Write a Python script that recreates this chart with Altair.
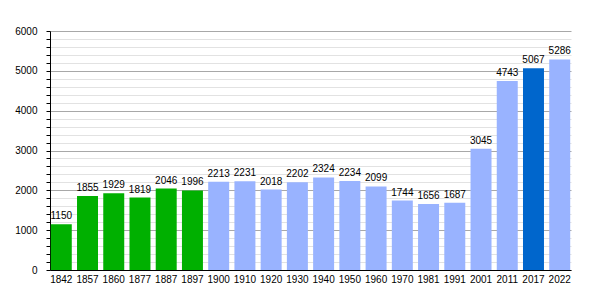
import altair as alt
import pandas as pd

years = ["1842", "1857", "1860", "1877", "1887", "1897", "1900", "1910", "1920", "1930",
         "1940", "1950", "1960", "1970", "1981", "1991", "2001", "2011", "2017", "2022"]
population = [1150, 1855, 1929, 1819, 2046, 1996, 2213, 2231, 2018, 2202,
              2324, 2234, 2099, 1744, 1656, 1687, 3045, 4743, 5067, 5286]
kinds = ["old"] * 6 + ["census"] * 12 + ["latest", "census"]

kind_domain = ["old", "census", "latest"]
kind_colors = ["#00b000", "#99b3ff", "#0066cc"]
tick_values = list(range(0, 6001, 200))

df = pd.DataFrame({"year": years, "pop": population, "kind": kinds})

font = "Liberation Sans"

x = alt.X("year:N", sort=years, title=None,
          scale=alt.Scale(paddingInner=0.2, paddingOuter=0.03),
          axis=alt.Axis(labelAngle=0, ticks=False, domainColor="#000", domainWidth=1,
                        labelFont=font, labelFontSize=10, labelColor="#000", labelPadding=4))
y = alt.Y("pop:Q", title=None,
          scale=alt.Scale(domain=[0, 6000], nice=False, zero=True),
          axis=alt.Axis(values=tick_values,
                        labelExpr="datum.value % 1000 == 0 ? datum.label : ''",
                        format="d", labelOverlap=False, tickCount=100,
                        gridColor={"expr": "datum.value % 1000 == 0 ? '#a8a8a8' : '#e2e2e2'"},
                        tickSize=4, tickColor="#000", domainColor="#000",
                        labelFont=font, labelFontSize=10, labelColor="#000", labelPadding=9))

base = alt.Chart(df).encode(x=x, y=y)

bars = base.mark_bar().encode(
    color=alt.Color("kind:N", scale=alt.Scale(domain=kind_domain, range=kind_colors), legend=None),
)
labels = base.mark_text(baseline="alphabetic", dy=-5, font=font, fontSize=10, color="#000").encode(
    text="pop:Q"
)

chart = (bars + labels).properties(
    width=521, height=239,
    autosize=alt.AutoSizeParams(type="none"),
    padding={"left": 50, "top": 31, "right": 29, "bottom": 30},
).configure_view(stroke=None).configure_axis(gridWidth=1)

chart.save("out.html", embed_options={"renderer": "svg", "actions": False})
